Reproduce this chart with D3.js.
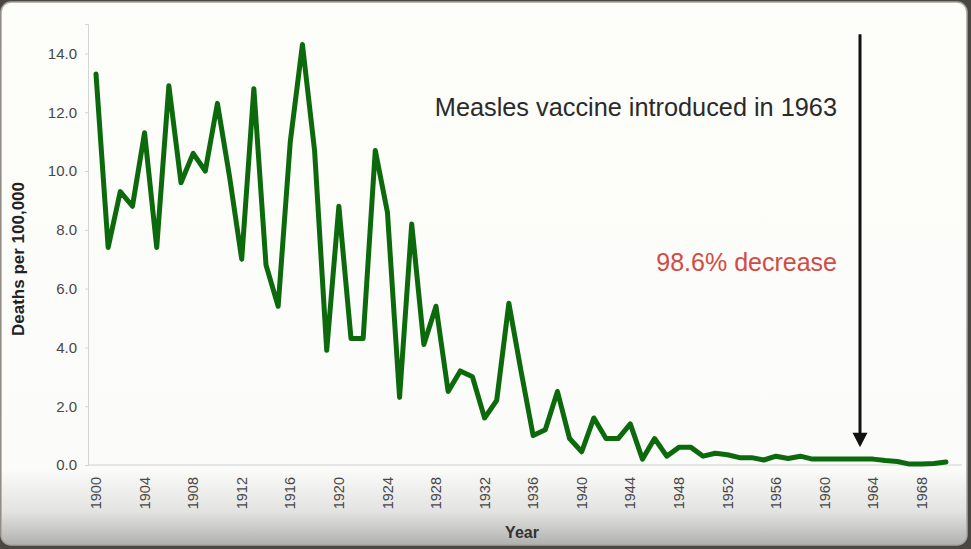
<html>
<head>
    <style>
        body { margin: 0; background: #4a4641; }
        text { font-family: "Liberation Sans", Arial, sans-serif; }
    </style>
    <script src="https://d3js.org/d3.v7.min.js"></script>
</head>
<body>
    <svg width="971" height="549"></svg>

    <script>
        // measles deaths per 100,000, USA 1900-1970
        var years = [1900, 1901, 1902, 1903, 1904, 1905, 1906, 1907, 1908, 1909,
                     1910, 1911, 1912, 1913, 1914, 1915, 1916, 1917, 1918, 1919,
                     1920, 1921, 1922, 1923, 1924, 1925, 1926, 1927, 1928, 1929,
                     1930, 1931, 1932, 1933, 1934, 1935, 1936, 1937, 1938, 1939,
                     1940, 1941, 1942, 1943, 1944, 1945, 1946, 1947, 1948, 1949,
                     1950, 1951, 1952, 1953, 1954, 1955, 1956, 1957, 1958, 1959,
                     1960, 1961, 1962, 1963, 1964, 1965, 1966, 1967, 1968, 1969,
                     1970];
        var deaths = [13.3, 7.4, 9.3, 8.8, 11.3, 7.4, 12.9, 9.6, 10.6, 10.0,
                      12.3, 9.8, 7.0, 12.8, 6.8, 5.4, 11.0, 14.3, 10.7, 3.9,
                      8.8, 4.3, 4.3, 10.7, 8.6, 2.3, 8.2, 4.1, 5.4, 2.5,
                      3.2, 3.0, 1.6, 2.2, 5.5, 3.2, 1.0, 1.2, 2.5, 0.9,
                      0.45, 1.6, 0.9, 0.9, 1.4, 0.2, 0.9, 0.3, 0.6, 0.6,
                      0.3, 0.4, 0.35, 0.25, 0.25, 0.17, 0.3, 0.22, 0.3, 0.2,
                      0.2, 0.2, 0.2, 0.2, 0.2, 0.15, 0.12, 0.03, 0.03, 0.05,
                      0.1];
        var xTickYears = [1900, 1904, 1908, 1912, 1916, 1920, 1924, 1928, 1932, 1936,
                          1940, 1944, 1948, 1952, 1956, 1960, 1964, 1968];
        var yTicks = [0, 2, 4, 6, 8, 10, 12, 14];
        var vaccineYear = 1963;

        var svg = d3.select("svg");

        // slide frame with grey fade at the bottom
        var grad = svg.append("defs").append("linearGradient")
            .attr("id", "bg").attr("x1", 0).attr("y1", 0).attr("x2", 0).attr("y2", 1);
        grad.append("stop").attr("offset", "0").attr("stop-color", "#fdfdf9");
        grad.append("stop").attr("offset", "0.86").attr("stop-color", "#fbfbfa");
        grad.append("stop").attr("offset", "0.94").attr("stop-color", "#e2e2e1");
        grad.append("stop").attr("offset", "1").attr("stop-color", "#b0b0af");

        svg.append("rect")
           .attr("x", 1).attr("y", 2).attr("width", 966).attr("height", 543)
           .attr("rx", 10).attr("fill", "url(#bg)")
           .attr("stroke", "#a9a49c").attr("stroke-width", 1.5);

        var x_scale = d3.scaleLinear().domain([1900, 1970]).range([96, 946]);
        var y_scale = d3.scaleLinear().domain([0, 15]).range([465, 24]);

        // y axis
        var yAxis = svg.append("g")
            .attr("transform", "translate(88,0)")
            .call(d3.axisLeft(y_scale).tickValues(yTicks).tickSize(3).tickPadding(8)
                  .tickFormat(d3.format(".1f")));
        yAxis.select(".domain").attr("stroke", "#d4d4d4");
        yAxis.selectAll(".tick line").attr("stroke", "#d4d4d4");
        yAxis.selectAll(".tick text")
             .attr("font-size", 15).attr("fill", "#484848")
             .style("font-family", "'Liberation Sans', Arial, sans-serif");

        // x axis line
        svg.append("line")
           .attr("x1", 88).attr("x2", 962)
           .attr("y1", y_scale(0)).attr("y2", y_scale(0))
           .attr("stroke", "#cfcfcf").attr("stroke-width", 1.2);

        // x tick labels, rotated
        svg.selectAll(".xlab")
           .data(xTickYears)
           .enter().append("text")
           .attr("class", "xlab")
           .attr("transform", function(d){ return "translate(" + x_scale(d) + ",477) rotate(-90)"; })
           .attr("text-anchor", "end")
           .attr("dy", "0.35em")
           .attr("font-size", 14.5)
           .attr("fill", "#484848")
           .text(function(d){ return d; });

        // axis titles
        svg.append("text")
           .attr("transform", "translate(24,259) rotate(-90)")
           .attr("text-anchor", "middle")
           .attr("font-size", 17).attr("font-weight", "bold").attr("fill", "#222")
           .text("Deaths per 100,000");

        svg.append("text")
           .attr("x", 522).attr("y", 538)
           .attr("text-anchor", "middle")
           .attr("font-size", 16).attr("font-weight", "bold").attr("fill", "#333")
           .text("Year");

        // the series
        var line = d3.line()
            .x(function(d, i){ return x_scale(years[i]); })
            .y(function(d){ return y_scale(d); });

        svg.append("path")
           .datum(deaths)
           .attr("d", line)
           .attr("fill", "none")
           .attr("stroke", "#0c6a0d")
           .attr("stroke-width", 5)
           .attr("stroke-linejoin", "round")
           .attr("stroke-linecap", "round");

        // vaccine arrow
        var ax = x_scale(vaccineYear) - 1;
        svg.append("line")
           .attr("x1", ax).attr("x2", ax)
           .attr("y1", y_scale(14.65)).attr("y2", y_scale(1.0))
           .attr("stroke", "#111").attr("stroke-width", 3);
        svg.append("path")
           .attr("d", "M" + (ax - 7.5) + "," + y_scale(1.1) +
                      "L" + (ax + 7.5) + "," + y_scale(1.1) +
                      "L" + ax + "," + y_scale(0.6) + "Z")
           .attr("fill", "#111");

        svg.append("text")
           .attr("x", 837).attr("y", 116)
           .attr("text-anchor", "end")
           .attr("font-size", 25.3).attr("fill", "#2a2a2a")
           .text("Measles vaccine introduced in 1963");

        svg.append("text")
           .attr("x", 837).attr("y", 271)
           .attr("text-anchor", "end")
           .attr("font-size", 25).attr("fill", "#d14b45")
           .text("98.6% decrease");
    </script>
</body>
</html>
